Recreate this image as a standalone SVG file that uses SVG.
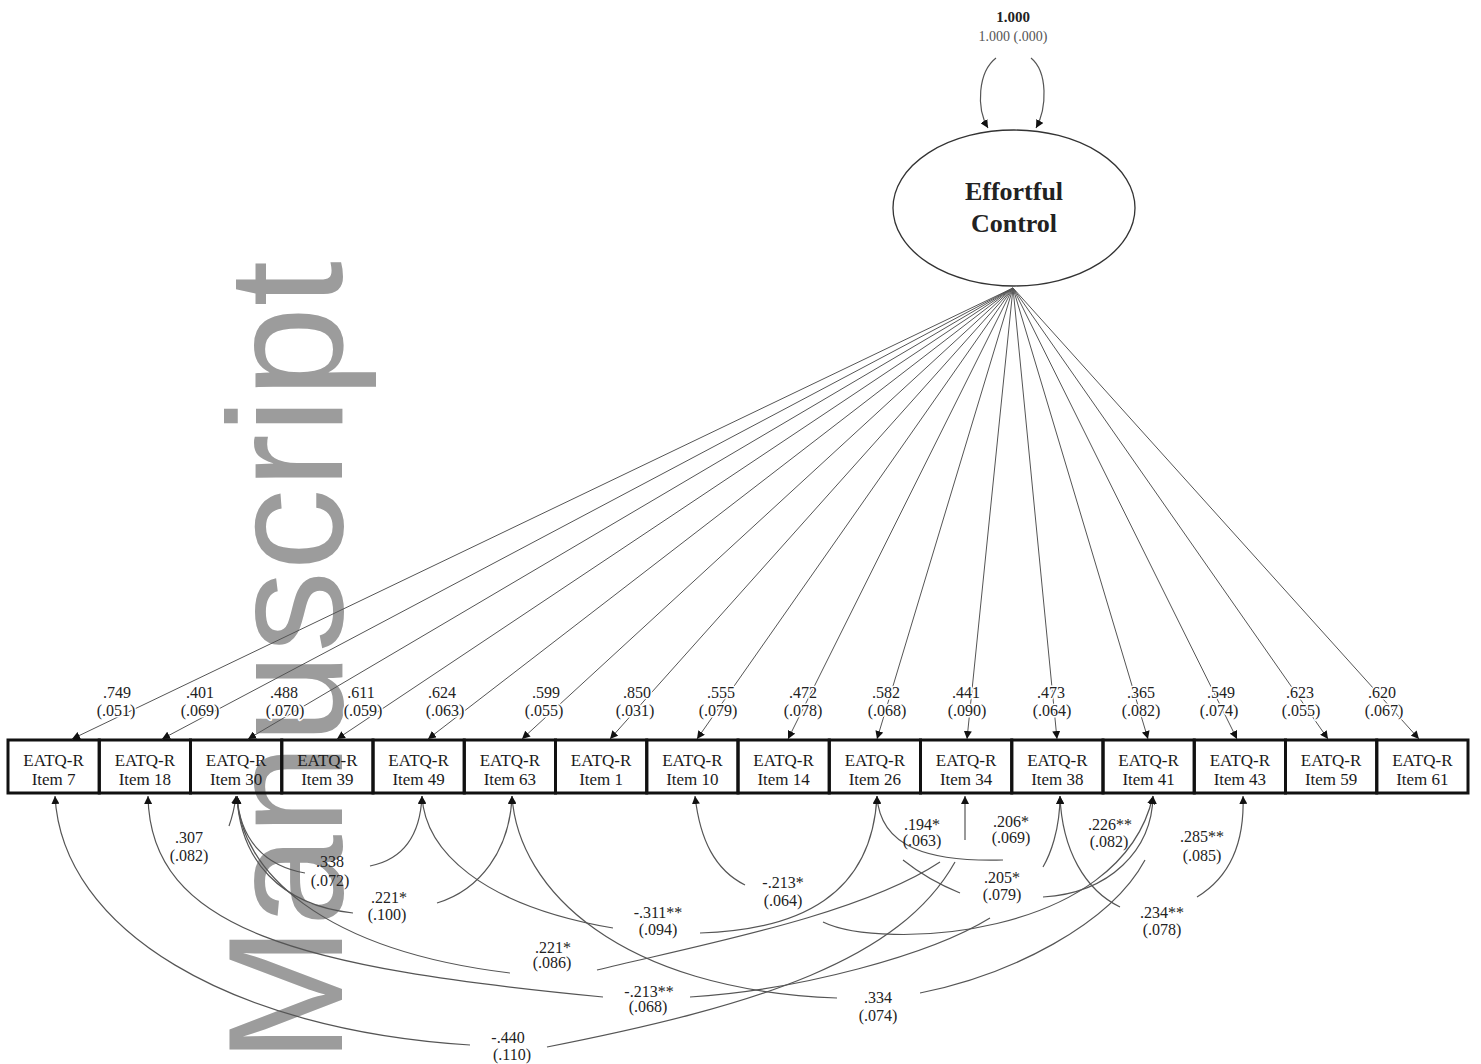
<svg xmlns="http://www.w3.org/2000/svg" width="1481" height="1064" viewBox="0 0 1481 1064">
<style>
text{font-family:"Liberation Serif","Times New Roman",serif;text-anchor:middle;fill:#222}
.lb{font-size:16px}
.hl text{stroke:#fff;stroke-width:3;paint-order:stroke;stroke-linejoin:round}
.bx rect{fill:none;stroke:#111;stroke-width:3}
.bx text{font-size:17px;fill:#1a1a1a}
.ld{stroke:#555;stroke-width:1;fill:none;marker-end:url(#ah)}
.cv{stroke:#555;stroke-width:1.2;fill:none}
.cs{marker-start:url(#ah)}
.ce{marker-end:url(#ah)}
.wm{font-family:"Liberation Sans",Arial,sans-serif;font-size:164px;fill:#9c9c9c;text-anchor:start}
</style>
<defs>
<marker id="ah" viewBox="0 0 10 10" refX="10" refY="5" markerWidth="8" markerHeight="8" markerUnits="userSpaceOnUse" orient="auto-start-reverse"><path d="M0,0 L10,5 L0,10 z" fill="#111"/></marker>
</defs>
<rect width="1481" height="1064" fill="#fff"/>
<text class="wm" transform="translate(342,1063) rotate(-90)">Manuscript</text>

<g id="latent">
<ellipse cx="1014" cy="208" rx="121" ry="78" fill="none" stroke="#333" stroke-width="1.3"/>
<text x="1014" y="200" style="font-size:26px;font-weight:bold">Effortful</text>
<text x="1014" y="232" style="font-size:26px;font-weight:bold">Control</text>
<text x="1013" y="22" style="font-size:15px;font-weight:bold">1.000</text>
<text x="1013" y="41" style="font-size:14px;fill:#555">1.000 (.000)</text>
</g>

<g id="items" class="bx">
<g id="item7"><rect x="8" y="740" width="91.25" height="53"/><text x="53.6" y="766">EATQ-R</text><text x="53.6" y="785">Item 7</text></g>
<g id="item18"><rect x="99.25" y="740" width="91.25" height="53"/><text x="144.9" y="766">EATQ-R</text><text x="144.9" y="785">Item 18</text></g>
<g id="item30"><rect x="190.5" y="740" width="91.25" height="53"/><text x="236.1" y="766">EATQ-R</text><text x="236.1" y="785">Item 30</text></g>
<g id="item39"><rect x="281.75" y="740" width="91.25" height="53"/><text x="327.4" y="766">EATQ-R</text><text x="327.4" y="785">Item 39</text></g>
<g id="item49"><rect x="373" y="740" width="91.25" height="53"/><text x="418.6" y="766">EATQ-R</text><text x="418.6" y="785">Item 49</text></g>
<g id="item63"><rect x="464.25" y="740" width="91.25" height="53"/><text x="509.9" y="766">EATQ-R</text><text x="509.9" y="785">Item 63</text></g>
<g id="item1"><rect x="555.5" y="740" width="91.25" height="53"/><text x="601.1" y="766">EATQ-R</text><text x="601.1" y="785">Item 1</text></g>
<g id="item10"><rect x="646.75" y="740" width="91.25" height="53"/><text x="692.4" y="766">EATQ-R</text><text x="692.4" y="785">Item 10</text></g>
<g id="item14"><rect x="738" y="740" width="91.25" height="53"/><text x="783.6" y="766">EATQ-R</text><text x="783.6" y="785">Item 14</text></g>
<g id="item26"><rect x="829.25" y="740" width="91.25" height="53"/><text x="874.9" y="766">EATQ-R</text><text x="874.9" y="785">Item 26</text></g>
<g id="item34"><rect x="920.5" y="740" width="91.25" height="53"/><text x="966.1" y="766">EATQ-R</text><text x="966.1" y="785">Item 34</text></g>
<g id="item38"><rect x="1011.75" y="740" width="91.25" height="53"/><text x="1057.4" y="766">EATQ-R</text><text x="1057.4" y="785">Item 38</text></g>
<g id="item41"><rect x="1103" y="740" width="91.25" height="53"/><text x="1148.6" y="766">EATQ-R</text><text x="1148.6" y="785">Item 41</text></g>
<g id="item43"><rect x="1194.25" y="740" width="91.25" height="53"/><text x="1239.9" y="766">EATQ-R</text><text x="1239.9" y="785">Item 43</text></g>
<g id="item59"><rect x="1285.5" y="740" width="91.25" height="53"/><text x="1331.1" y="766">EATQ-R</text><text x="1331.1" y="785">Item 59</text></g>
<g id="item61"><rect x="1376.75" y="740" width="91.25" height="53"/><text x="1422.4" y="766">EATQ-R</text><text x="1422.4" y="785">Item 61</text></g>
</g>

<g id="connectors">
<path class="cv ce" d="M996,58 C978,72 976,108 988,128"/>
<path class="cv ce" d="M1031,58 C1048,72 1047,108 1036,128"/>
<path class="ld" d="M1013,288 L72,739"/>
<path class="ld" d="M1013,288 L162,739"/>
<path class="ld" d="M1013,288 L248,739"/>
<path class="ld" d="M1013,288 L337,739"/>
<path class="ld" d="M1013,288 L428,739"/>
<path class="ld" d="M1013,288 L522,739"/>
<path class="ld" d="M1013,288 L610,739"/>
<path class="ld" d="M1013,288 L697,739"/>
<path class="ld" d="M1013,288 L788,739"/>
<path class="ld" d="M1013,288 L877,739"/>
<path class="ld" d="M1013,288 L967,739"/>
<path class="ld" d="M1013,288 L1057,739"/>
<path class="ld" d="M1013,288 L1148,739"/>
<path class="ld" d="M1013,288 L1237,739"/>
<path class="ld" d="M1013,288 L1328,739"/>
<path class="ld" d="M1013,288 L1419,739"/>

<path class="cv cs" d="M236,796 Q234,812 229,826"/>
<path class="cv cs" d="M55,796 C62,930 230,1030 470,1045"/>
<path class="cv" d="M547,1047 C760,1005 900,960 955,862"/>
<path class="cv cs" d="M148,796 C150,930 300,968 603,997"/>
<path class="cv cs" d="M237,796 C240,870 320,950 510,973"/>
<path class="cv cs" d="M237,796 C240,860 280,905 353,913"/>
<path class="cv cs" d="M237,796 C240,840 265,866 305,873"/>
<path class="cv cs" d="M422,796 C420,840 400,860 370,866"/>
<path class="cv cs" d="M422,796 C425,850 480,905 613,928"/>
<path class="cv cs" d="M512,796 C510,850 480,890 437,903"/>
<path class="cv cs" d="M512,796 C518,890 620,990 837,998"/>
<path class="cv" d="M690,997 C800,990 930,955 990,918"/>
<path class="cv" d="M597,970 C700,945 860,915 940,862"/>
<path class="cv cs" d="M877,796 C872,895 800,930 700,933"/>
<path class="cv cs" d="M877,796 C880,848 930,862 1003,860"/>
<path class="cv" d="M903,860 Q928,880 960,893"/>
<path class="cv cs" d="M695,796 C700,840 715,870 745,885"/>
<path class="cv ce" d="M823,922 C880,950 1120,940 1153,796"/>
<path class="cv" d="M920,993 C1010,975 1110,925 1145,860"/>
<path class="cv cs" d="M965,796 L965,840"/>
<path class="cv cs" d="M1060,796 C1060,830 1050,855 1043,867"/>
<path class="cv cs" d="M1060,796 C1062,850 1085,890 1120,907"/>
<path class="cv cs" d="M1153,796 C1152,850 1110,893 1043,897"/>
<path class="cv cs" d="M1243,796 C1245,850 1225,880 1197,897"/>
</g>

<g id="loading-labels" class="lb hl">
<text x="117" y="698">.749</text><text x="116" y="716">(.051)</text>
<text x="200" y="698">.401</text><text x="200" y="716">(.069)</text>
<text x="284" y="698">.488</text><text x="285" y="716">(.070)</text>
<text x="361" y="698">.611</text><text x="363" y="716">(.059)</text>
<text x="442" y="698">.624</text><text x="445" y="716">(.063)</text>
<text x="546" y="698">.599</text><text x="544" y="716">(.055)</text>
<text x="637" y="698">.850</text><text x="635" y="716">(.031)</text>
<text x="721" y="698">.555</text><text x="718" y="716">(.079)</text>
<text x="803" y="698">.472</text><text x="803" y="716">(.078)</text>
<text x="886" y="698">.582</text><text x="887" y="716">(.068)</text>
<text x="966" y="698">.441</text><text x="967" y="716">(.090)</text>
<text x="1051" y="698">.473</text><text x="1052" y="716">(.064)</text>
<text x="1141" y="698">.365</text><text x="1141" y="716">(.082)</text>
<text x="1221" y="698">.549</text><text x="1219" y="716">(.074)</text>
<text x="1300" y="698">.623</text><text x="1301" y="716">(.055)</text>
<text x="1382" y="698">.620</text><text x="1384" y="716">(.067)</text>
</g>

<g id="covariance-labels" class="lb">
<text x="189" y="843">.307</text><text x="189" y="861">(.082)</text>
<text x="330" y="867">.338</text><text x="330" y="886">(.072)</text>
<text x="389" y="903">.221*</text><text x="387" y="920">(.100)</text>
<text x="658" y="918">-.311**</text><text x="658" y="935">(.094)</text>
<text x="553" y="953">.221*</text><text x="552" y="968">(.086)</text>
<text x="649" y="997">-.213**</text><text x="648" y="1012">(.068)</text>
<text x="508" y="1043">-.440</text><text x="512" y="1060">(.110)</text>
<text x="783" y="888">-.213*</text><text x="783" y="906">(.064)</text>
<text x="878" y="1003">.334</text><text x="878" y="1021">(.074)</text>
<text x="922" y="830">.194*</text><text x="922" y="846">(.063)</text>
<text x="1011" y="827">.206*</text><text x="1011" y="843">(.069)</text>
<text x="1002" y="883">.205*</text><text x="1002" y="900">(.079)</text>
<text x="1110" y="830">.226**</text><text x="1109" y="847">(.082)</text>
<text x="1202" y="842">.285**</text><text x="1202" y="861">(.085)</text>
<text x="1162" y="918">.234**</text><text x="1162" y="935">(.078)</text>
</g>
</svg>
